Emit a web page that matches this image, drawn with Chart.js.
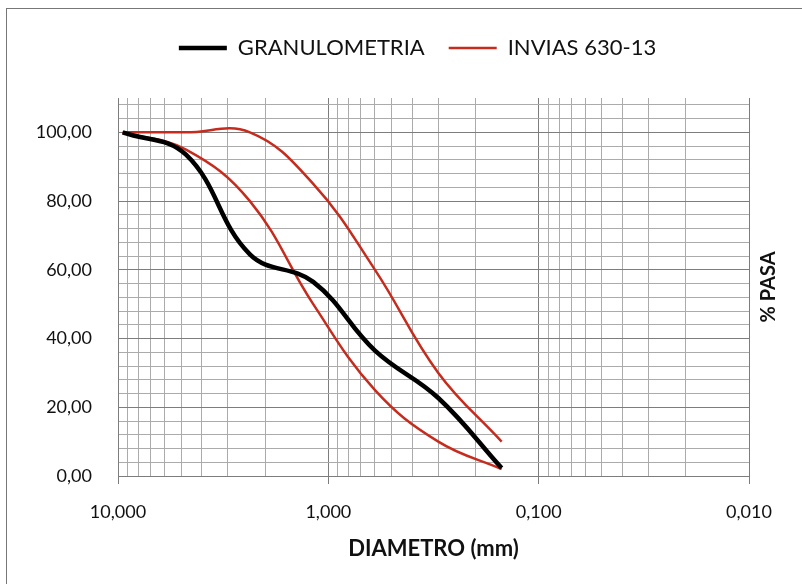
<!DOCTYPE html>
<html>

<head>
    <meta charset="utf-8">
    <script src="https://cdn.jsdelivr.net/npm/chart.js@4.4.1/dist/chart.umd.min.js"></script>
    <title>Granulometria</title>
    <style>
        body { margin: 0; background: #fff; overflow: hidden; }
        #frame { position: absolute; left: 6px; top: 8px; width: 900px; height: 700px; border: 1.5px solid #777; }
        #wrap { position: absolute; left: 0; top: 0; width: 802px; height: 584px; }
    </style>
</head>

<body>
    <div id="frame"></div>
    <div id="wrap"><canvas id="curva" width="802" height="584"></canvas></div>
    <script>
        // tamices (mm) y % que pasa
        const tamices = [9.5, 4.75, 2.36, 1.18, 0.6, 0.3, 0.15];
        const granulometria = [100, 93.5, 64.5, 56.5, 36.5, 22.7, 2.3];
        const inviasMin = [100, 95, 80, 50, 25, 10, 2];
        const inviasMax = [100, 100, 100, 85, 60, 30, 10];

        // lineas de la reticula logaritmica
        const gridX = [10, 9, 8, 7, 6, 5, 4, 3, 2,
            1, 0.9, 0.8, 0.7, 0.6, 0.5, 0.4, 0.3, 0.2,
            0.1, 0.09, 0.08, 0.07, 0.06, 0.05, 0.04, 0.03, 0.02, 0.01];
        const labelsX = { 10: '10,000', 1: '1,000', 0.1: '0,100', 0.01: '0,010' };
        const gridY = [0, 4, 8, 12, 16, 20, 24, 28, 32, 36, 40, 44, 48, 52, 56, 60,
            64, 68, 72, 76, 80, 84, 88, 92, 96, 100, 104, 108];
        const labelsY = { 0: '0,00', 20: '20,00', 40: '40,00', 60: '60,00', 80: '80,00', 100: '100,00' };

        const FONT = 'Lato';
        const ROJO = '#C62C1E';

        function isDecade(v) {
            const l = Math.log10(v);
            return Math.abs(l - Math.round(l)) < 1e-9;
        }

        function puntos(ys) {
            return tamices.map((t, i) => ({ x: t, y: ys[i] }));
        }

        // leyenda: mas espacio debajo y un poco corrida a la derecha
        const ajusteLeyenda = {
            id: 'ajusteLeyenda',
            beforeLayout(chart) {
                const lg = chart.legend;
                if (lg && !lg._ajustada) {
                    const fit = lg.fit;
                    lg.fit = function () {
                        fit.call(this);
                        this.height = 85;
                    };
                    lg._ajustada = true;
                }
            },
            afterLayout(chart) {
                chart.legend.left += 43;
                chart.legend.right += 43;
            }
        };

        // titulo del eje derecho (se lee de abajo hacia arriba)
        const ejeDerecho = {
            id: 'ejeDerecho',
            afterDraw(chart) {
                const ctx = chart.ctx;
                const a = chart.chartArea;
                ctx.save();
                ctx.translate(769, (a.top + a.bottom) / 2);
                ctx.rotate(-Math.PI / 2);
                ctx.font = 'bold 20px ' + FONT;
                ctx.fillStyle = '#111';
                ctx.textAlign = 'center';
                ctx.textBaseline = 'middle';
                ctx.fillText('% PASA', 0, 0);
                ctx.restore();
            }
        };

        new Chart(document.getElementById('curva'), {
            type: 'line',
            data: {
                datasets: [{
                    label: 'GRANULOMETRIA',
                    data: puntos(granulometria),
                    borderColor: '#000',
                    backgroundColor: '#000',
                    borderWidth: 4.5,
                    pointRadius: 0,
                    tension: 0.4
                }, {
                    label: 'INVIAS 630-13',
                    data: puntos(inviasMax),
                    borderColor: ROJO,
                    backgroundColor: ROJO,
                    borderWidth: 2.5,
                    pointRadius: 0,
                    tension: 0.4
                }, {
                    label: 'INVIAS 630-13',
                    data: puntos(inviasMin),
                    borderColor: ROJO,
                    backgroundColor: ROJO,
                    borderWidth: 2.5,
                    pointRadius: 0,
                    tension: 0.4
                }]
            },
            options: {
                responsive: false,
                animation: false,
                layout: { padding: { top: 13, right: 53, bottom: 0, left: 0 } },
                plugins: {
                    legend: {
                        position: 'top',
                        labels: {
                            font: { family: FONT, size: 22 },
                            color: '#111',
                            usePointStyle: true,
                            pointStyle: 'line',
                            pointStyleWidth: 48,
                            padding: 24,
                            filter: (item) => item.datasetIndex !== 2
                        }
                    },
                    tooltip: { enabled: false }
                },
                scales: {
                    x: {
                        type: 'logarithmic',
                        reverse: true,
                        min: 0.01,
                        max: 10,
                        afterBuildTicks: (scale) => {
                            scale.ticks = gridX.map(v => ({ value: v, major: isDecade(v) }));
                        },
                        afterFit: (scale) => { scale.height = 108; },
                        ticks: {
                            autoSkip: false,
                            maxRotation: 0,
                            padding: 17,
                            font: { family: FONT, size: 18 },
                            color: '#111',
                            callback: (v) => labelsX[v] || ''
                        },
                        grid: {
                            color: (c) => c.tick && isDecade(c.tick.value) ? '#7d7d7d' : '#ababab',
                            tickColor: (c) => c.tick && isDecade(c.tick.value) ? '#7d7d7d' : 'transparent',
                            tickLength: 8
                        },
                        border: { color: '#7d7d7d' },
                        title: {
                            display: true,
                            text: 'DIAMETRO (mm)',
                            font: { family: FONT, size: 22, weight: 'bold' },
                            color: '#111',
                            padding: { top: 2, bottom: 22 }
                        }
                    },
                    y: {
                        min: 0,
                        max: 110,
                        afterBuildTicks: (scale) => {
                            scale.ticks = gridY.map(v => ({ value: v }));
                        },
                        afterFit: (scale) => { scale.width = 118; },
                        ticks: {
                            autoSkip: false,
                            padding: 26,
                            font: { family: FONT, size: 18 },
                            color: '#111',
                            callback: (v) => labelsY[v] || ''
                        },
                        grid: {
                            color: (c) => c.tick && c.tick.value % 20 === 0 ? '#7d7d7d' : '#ababab',
                            drawTicks: false
                        },
                        border: { color: '#7d7d7d' }
                    }
                }
            },
            plugins: [ajusteLeyenda, ejeDerecho]
        });
    </script>
</body>

</html>
